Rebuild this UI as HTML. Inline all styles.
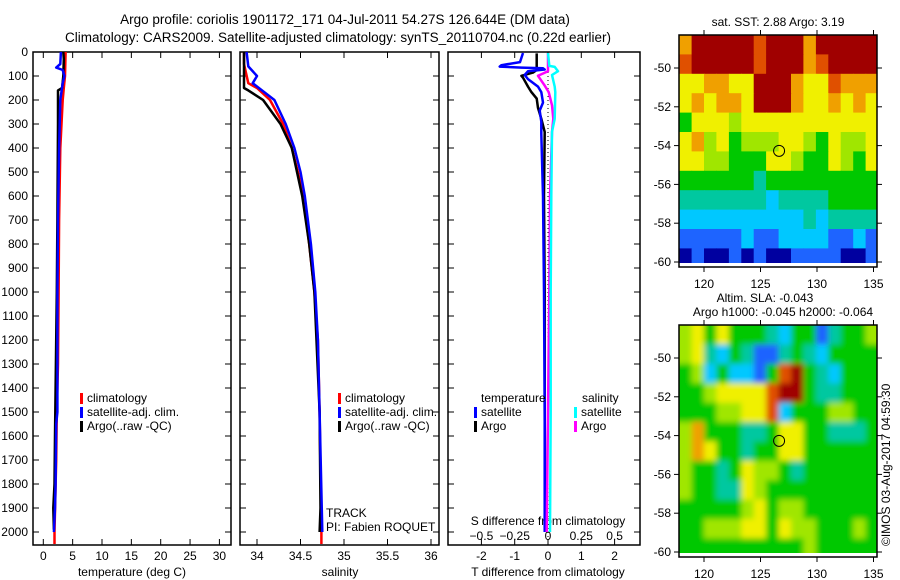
<!DOCTYPE html>
<html><head><meta charset="utf-8"><style>
html,body{margin:0;padding:0;background:#fff;}
svg{display:block;font-family:"Liberation Sans",sans-serif;}
text{fill:#000;}
</style></head><body>
<svg id="chart" width="900" height="580" viewBox="0 0 900 580">
<defs>
<clipPath id="clipSST"><rect x="679" y="35" width="198" height="228"/></clipPath>
<clipPath id="clipSLA"><rect x="679" y="325" width="198" height="228"/></clipPath>
<filter id="blur" x="-10%" y="-10%" width="120%" height="120%"><feGaussianBlur stdDeviation="3"/></filter>
</defs>
<text x="345" y="24" font-size="13.5" text-anchor="middle">Argo profile: coriolis 1901172_171 04-Jul-2011 54.27S 126.644E (DM data)</text>
<text x="338" y="42" font-size="13.5" text-anchor="middle">Climatology: CARS2009. Satellite-adjusted climatology: synTS_20110704.nc (0.22d earlier)</text>
<g id="g"></g>
<text transform="translate(890,546) rotate(-90)" font-size="12">©IMOS 03-Aug-2017 04:59:30</text>
</svg>
<script>
// ---- data ----
const depthTicks=[0,100,200,300,400,500,600,700,800,900,1000,1100,1200,1300,1400,1500,1600,1700,1800,1900,2000];
const tempTicks=[0,5,10,15,20,25,30];
const salTicks=[34,34.5,35,35.5,36];
const tdiffTicks=[-2,-1,0,1,2];
const sdiffTicks=[-0.5,-0.25,0,0.25,0.5];
const lonTicks=[120,125,130,135];
const latTicks=[-50,-52,-54,-56,-58,-60];

const tClimD=[0,100,150,200,300,400,700,1000,1300,1500,1700,2000,2050];
const tClimV=[3.8,3.7,3.5,3.3,3.1,2.9,2.7,2.6,2.5,2.3,2.2,1.9,1.9];
const tSatD=[0,50,65,75,100,130,200,400,700,1000,1300,1500,1550,1800,1900,2000];
const tSatV=[3.0,2.9,2.2,3.3,3.6,3.3,2.9,2.7,2.5,2.4,2.4,2.4,2.2,2.1,2.0,1.8];
const tArgoD=[0,30,100,150,160,300,700,1000,1600,1800,1900,1990];
const tArgoV=[3.4,3.5,3.4,3.2,2.5,2.5,2.4,2.3,2.0,1.9,1.7,1.8];

const sClimD=[0,50,130,150,200,300,400,500,600,800,1000,1200,1500,2000,2050];
const sClimV=[33.85,33.85,33.9,34.0,34.15,34.3,34.4,34.47,34.53,34.6,34.66,34.7,34.72,34.74,34.74];
const sSatD=[0,60,100,130,200,300,400,500,600,800,1000,1200,1500,2000];
const sSatV=[33.88,33.9,34.0,33.95,34.2,34.33,34.43,34.5,34.55,34.62,34.67,34.7,34.72,34.75];
const sArgoD=[0,150,160,200,300,400,600,800,1000,1500,1900,2000];
const sArgoV=[33.85,33.85,33.9,34.07,34.27,34.4,34.52,34.6,34.66,34.72,34.73,34.72];

const dTSatD=[4,42,55,61,65,68,73,80,96,113,144,167,211,244,290,340,600,1000,1500,2000];
const dTSatV=[-0.75,-0.84,-1.4,-1.45,-0.8,-0.15,-0.1,-0.6,-0.7,-0.6,-0.3,-0.2,-0.15,-0.25,-0.2,-0.2,-0.15,-0.12,-0.1,-0.1];
const dTArgoD=[6,75,86,99,107,144,167,194,233,278,333,600,1000,1500,2000];
const dTArgoV=[-0.34,-0.34,-0.45,-0.8,-0.75,-0.6,-0.5,-0.34,-0.3,-0.2,-0.1,-0.12,-0.1,-0.1,-0.08];
const dSSatD=[4,58,62,80,96,144,167,278,333,600,1000,1500,2000];
const dSSatV=[0.0,0.01,0.05,0.075,0.03,0.05,0.055,0.05,0.03,0.025,0.02,0.02,0.015];
const dSArgoD=[4,80,99,140,167,222,278,333,600,1000,1500,2000];
const dSArgoV=[0.0,0.0,-0.075,-0.025,0.005,0.03,0.04,0.03,0.015,0.01,0.0,-0.01];

const sstRows=["7999998999799999","8999998999789999","6677669997668777","6767769997667676","4666566666666666","6756455566546556","6655444665446546","4444443444444444","3333333233334444","2222222222323333","1111121122221121","0100101001111001"];
const slaRows=["5646444324413445","5632431134324444","4524221489432444","4456666899433444","4445566824445544","5744433466443334","5764434466444444","5443465543444444","5443365444444444","4444456455444444","4455566465544454","4444444444544444"];
const argoLon=126.644, argoLat=-54.27;

// ---- helpers ----
const NS="http://www.w3.org/2000/svg";
const G=document.getElementById('g');
function mk(tag,attrs,parent){const e=document.createElementNS(NS,tag);for(const k in attrs)e.setAttribute(k,attrs[k]);(parent||G).appendChild(e);return e;}
function txt(x,y,s,size,anchor,parent){const e=mk('text',{x:x,y:y,'font-size':size,'text-anchor':anchor||'start'},parent);e.textContent=s;return e;}
const yD=d=>52+d*0.24;
const P1={l:33,r:231,x:v=>43.3+v*5.87};
const P2={l:240,r:439,x:v=>257+(v-34)*87};
const P3={l:448,r:640,x:v=>548+v*33.3,xs:v=>548+v*133.2};
const TOP=52,BOT=545;

function frame(P,name){
  const r=mk('rect',{x:P.l,y:TOP,width:P.r-P.l,height:BOT-TOP,fill:'none',stroke:'#000','stroke-width':1.5});
  
  
  depthTicks.forEach(d=>{mk('line',{x1:P.l,x2:P.l+6,y1:yD(d),y2:yD(d),stroke:'#000'});mk('line',{x1:P.r,x2:P.r-6,y1:yD(d),y2:yD(d),stroke:'#000'});});
}
function xticks(P,ticks,fx,labels,ly){
  ticks.forEach((v,i)=>{const x=fx(v);mk('line',{x1:x,x2:x,y1:BOT,y2:BOT-6,stroke:'#000'});mk('line',{x1:x,x2:x,y1:TOP,y2:TOP+6,stroke:'#000'});
    const t=txt(x,ly,labels?labels[i]:String(v),12,'middle');
    
    });
}
function line(D,V,fx,color,name,w){
  const pts=D.map((d,i)=>fx(V[i]).toFixed(1)+','+yD(d).toFixed(1)).join(' ');
  const p=mk('polyline',{points:pts,fill:'none',stroke:color,'stroke-width':w||2.5,'stroke-linejoin':'round'});
  
  
}
function legend(x,y,items){
  items.forEach((it,i)=>{mk('rect',{x:x,y:y+i*14-9,width:3,height:11,fill:it[0]});
    const t=txt(x+7,y+i*14,it[1],12);
    
    });
}

depthTicks.forEach(d=>{const t=txt(28,yD(d)+4,String(d),12,'end');
  
  });

// Panel 1 temperature
frame(P1,'temperature-panel');
xticks(P1,tempTicks,P1.x,null,560);
let t1=txt(132,576,'temperature (deg C)',12,'middle');


line(tClimD,tClimV,P1.x,'#f00','temp-climatology-line');
line(tArgoD,tArgoV,P1.x,'#000','temp-argo-line');
line(tSatD,tSatV,P1.x,'#00f','temp-satellite-line');
legend(80,402,[['#f00','climatology'],['#00f','satellite-adj. clim.'],['#000','Argo(..raw -QC)']]);

// Panel 2 salinity
frame(P2,'salinity-panel');
xticks(P2,salTicks,P2.x,null,560);
let t2=txt(340,576,'salinity',12,'middle');


line(sClimD,sClimV,P2.x,'#f00','sal-climatology-line');
line(sArgoD,sArgoV,P2.x,'#000','sal-argo-line');
line(sSatD,sSatV,P2.x,'#00f','sal-satellite-line');
legend(338,402,[['#f00','climatology'],['#00f','satellite-adj. clim.'],['#000','Argo(..raw -QC)']]);
txt(326,517,'TRACK',12);
txt(326,531,'PI: Fabien ROQUET',12);

// Panel 3 differences
frame(P3,'difference-panel');
xticks(P3,tdiffTicks,P3.x,null,560);
sdiffTicks.forEach(v=>{const t=txt(P3.xs(v),540,String(v).replace('-','\u2212'),12,'middle');
  
  });
txt(548,525,'S difference from climatology',12,'middle');
let t3=txt(548,576,'T difference from climatology',12,'middle');


mk('line',{x1:P3.x(0),x2:P3.x(0),y1:yD(0),y2:BOT,stroke:'#000','stroke-dasharray':'1,3'});
line(dTArgoD,dTArgoV,P3.x,'#000','tdiff-argo-line');
line(dTSatD,dTSatV,P3.x,'#00f','tdiff-satellite-line');
line(dSArgoD,dSArgoV,P3.xs,'#f0f','sdiff-argo-line');
line(dSSatD,dSSatV,P3.xs,'#0ff','sdiff-satellite-line');
txt(481,402,'temperature',12);
legend(474,416,[['#00f','satellite'],['#000','Argo']]);
txt(582,402,'salinity',12);
legend(574,416,[['#0ff','satellite'],['#f0f','Argo']]);

// ---- maps ----
const jet=['#0000a0','#1e64ff','#00c8ff','#00c8a0','#00c800','#a0e600','#f0f000','#f0a000','#e05000','#a00000'];
const lonX=l=>704+(l-120)*11.3;
function map(rows,top,lat50,name,clip,blur){
  const latY=la=>lat50+(-50-la)*19.4;
  const grp=mk('g',{'clip-path':'url(#'+clip+')'});
  
  
  const inner=mk('g',blur?{filter:'url(#blur)'}:{},grp);
  const lon0=117.8,dlon=1.1,lat0=-48.3;
  rows.forEach((row,r)=>{for(let c=0;c<row.length;c++){
    const x0=lonX(lon0+c*dlon)-(blur&&c==0?8:0),x1=lonX(lon0+(c+1)*dlon)+(c==row.length-1?10:0);
    const y0=latY(lat0-r)-(r==0?(blur?10:0):0),y1=latY(lat0-r-1)+(r==rows.length-1?(blur?10:0):0);
    const cell=mk('rect',{x:x0.toFixed(1),y:y0.toFixed(1),width:(x1-x0+0.6).toFixed(1),height:(y1-y0+0.6).toFixed(1),fill:jet[+row[c]]},inner);
    
    
  }});
  mk('rect',{x:679,y:latY(-60.25),width:198,height:top+232-latY(-60.25),fill:'#fff'});
  const fr=mk('rect',{x:679,y:top,width:198,height:232,fill:'none',stroke:'#000','stroke-width':1.5});
  
  
  lonTicks.forEach(l=>{const x=lonX(l);mk('line',{x1:x,x2:x,y1:top,y2:top-5,stroke:'#000'});mk('line',{x1:x,x2:x,y1:top+232,y2:top+237,stroke:'#000'});
    txt(x,top+253,String(l),12,'middle');});
  latTicks.forEach(la=>{const y=latY(la);mk('line',{x1:679,x2:674,y1:y,y2:y,stroke:'#000'});mk('line',{x1:877,x2:882,y1:y,y2:y,stroke:'#000'});
    txt(671,y+4,String(la),12,'end');});
  const c=mk('circle',{cx:lonX(argoLon),cy:latY(argoLat),r:5.5,fill:'none',stroke:'#000','stroke-width':1});
  
  
}
map(sstRows,35,68,'sst-map','clipSST',false);
map(slaRows,325,358,'sla-map','clipSLA',true);
txt(778,26,'sat. SST: 2.88 Argo: 3.19',12,'middle');
txt(765,302,'Altim. SLA: -0.043',12,'middle');
txt(783,316,'Argo h1000: -0.045 h2000: -0.064',12,'middle');
</script>
</body></html>
